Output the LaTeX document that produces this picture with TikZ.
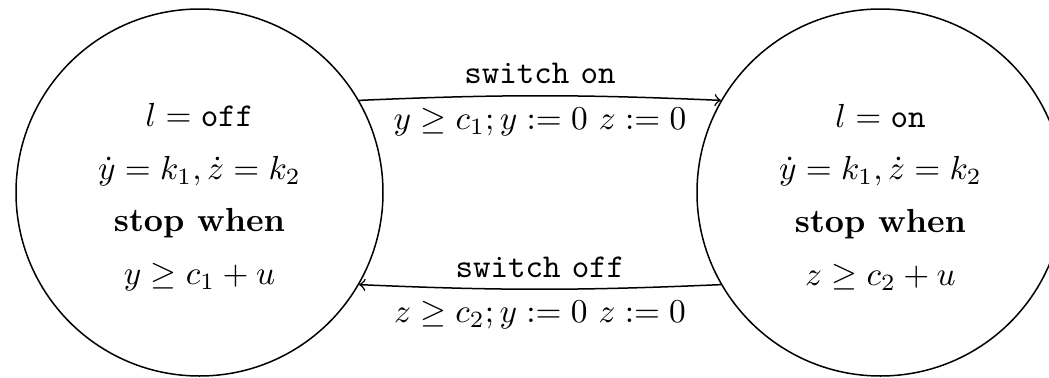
\documentclass[tikz,border=0pt]{standalone}
\usepackage{amsmath}
\begin{document}
\begin{tikzpicture}[x=0.3pt,y=-0.3pt,
  state/.style={draw,circle,line width=0.45pt,minimum size=110.1pt,inner sep=0pt},
  body/.style={align=center,inner sep=0pt},
  trans/.style={->,line width=0.45pt}]
\useasboundingbox (0,0) rectangle (1049,377);
\node[state] (L) at (199.5,192.5) {};
\node[state] (R) at (880.5,192.5) {};
\node[body] (Lt) at (199.5,197) {$l = \texttt{off}$\\[3.8pt] $\dot y = k_1, \dot z = k_2$\\[3.8pt] \textbf{stop when}\\[3.8pt] $y \geq c_1 + u$};
\node[body] (Rt) at (880.5,197) {$l = \texttt{on}$\\[3.8pt] $\dot y = k_1, \dot z = k_2$\\[3.8pt] \textbf{stop when}\\[3.8pt] $z \geq c_2 + u$};
\draw[trans] (L.30) to[bend left=2.5]
  node[above] (on) {\texttt{switch} \texttt{on}}
  node[below] (g1) {$y \geq c_1; y := 0\ z := 0$} (R.150);
\draw[trans] (R.-150) to[bend left=2.5]
  node[above] (off) {\texttt{switch} \texttt{off}}
  node[below] (g2) {$z \geq c_2; y := 0\ z := 0$} (L.-30);
\end{tikzpicture}
\end{document}
